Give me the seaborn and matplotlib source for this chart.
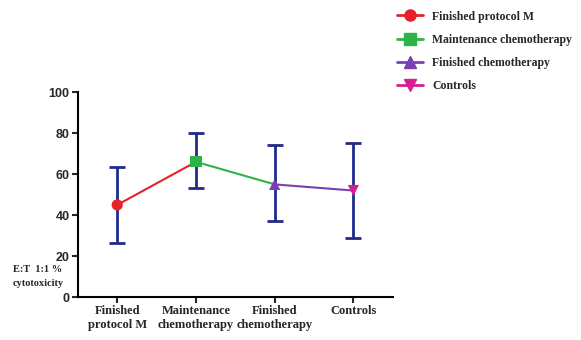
import matplotlib
matplotlib.use("Agg")
import matplotlib.pyplot as plt
from matplotlib.lines import Line2D
import seaborn as sns
import pandas as pd

# --- datos ---
grupos = ["Finished\nprotocol M", "Maintenance\nchemotherapy", "Finished\nchemotherapy", "Controls"]
nombres_leyenda = ["Finished protocol M", "Maintenance chemotherapy", "Finished chemotherapy", "Controls"]
medias = [45, 66, 55, 52]
err_inf = [18.5, 13, 18, 23]
err_sup = [18.5, 14, 19, 23]
colores = ["#e8202a", "#2db34a", "#7b3fb5", "#d6208f"]
marcadores = ["o", "s", "^", "v"]

df = pd.DataFrame({"grupo": nombres_leyenda, "media": medias, "x": range(len(medias))})

sns.set_style("ticks")
fig = plt.figure(figsize=(5.81, 3.4), dpi=100)
ax = fig.add_axes([0.134, 0.126, 0.542, 0.603])

# barras de error
ax.errorbar(df["x"], df["media"], yerr=[err_inf, err_sup], fmt="none",
            ecolor="#1f2a8a", elinewidth=2, capsize=6, capthick=2, zorder=2)

# segmentos coloreados por el punto de inicio
for i in range(len(medias) - 1):
    ax.plot(df["x"][i:i + 2], df["media"][i:i + 2], color=colores[i], lw=1.5, zorder=3)

sns.scatterplot(data=df, x="x", y="media", hue="grupo", style="grupo",
                palette=colores, markers=marcadores, s=65, edgecolor="none",
                legend=False, ax=ax, zorder=4)

ax.set_xlim(-0.5, 3.5)
ax.set_ylim(0, 100)
ax.set_xticks(range(len(grupos)))
ax.set_xticklabels(grupos, family="Liberation Serif", fontweight="bold", fontsize=9)
ax.set_yticks([0, 20, 40, 60, 80, 100])
for t in ax.get_yticklabels():
    t.set_family("Liberation Sans")
    t.set_fontweight("bold")
    t.set_fontsize(9)
ax.set_xlabel("")
ax.set_ylabel("")
sns.despine(ax=ax)
for s in ["left", "bottom"]:
    ax.spines[s].set_linewidth(1.5)
    ax.spines[s].set_color("black")
ax.tick_params(width=1.5, length=4, pad=2)

fig.text(13 / 581, 1 - 269 / 340, "E:T  1:1 %", family="Liberation Serif",
         fontweight="bold", fontsize=7.5, va="center")
fig.text(13 / 581, 1 - 283 / 340, "cytotoxicity", family="Liberation Serif",
         fontweight="bold", fontsize=7.5, va="center")

handles = [Line2D([0], [0], color=c, marker=m, markersize=8, lw=2, markeredgecolor=c)
           for c, m in zip(colores, marcadores)]
fig.legend(handles, nombres_leyenda, loc="upper left", bbox_to_anchor=(386 / 581, 1.0),
           frameon=False, prop={"family": "Liberation Serif", "weight": "bold", "size": 8.5},
           handlelength=2.2, labelspacing=0.95, handletextpad=0.8)

plt.savefig("out.png", dpi=100)
plt.close()
